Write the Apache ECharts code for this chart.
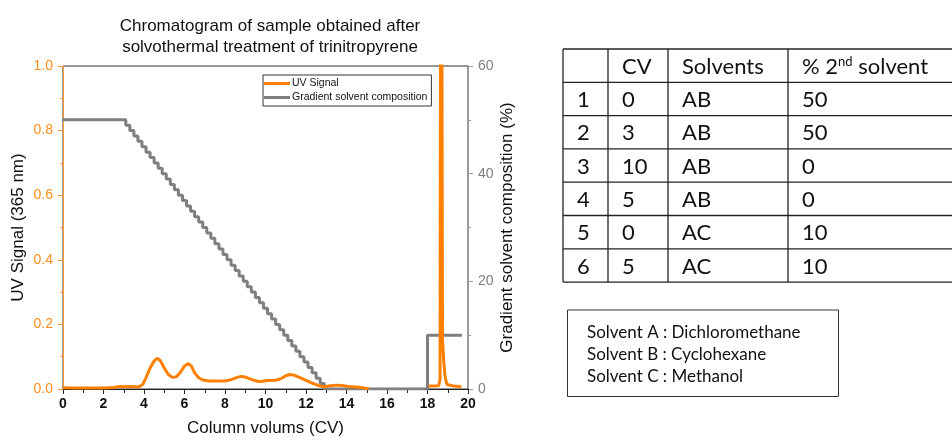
<!DOCTYPE html>
<html>
<head>
<meta charset="utf-8">
<script src="https://cdn.jsdelivr.net/npm/echarts@6/dist/echarts.min.js"></script>
<style>
  html, body { margin: 0; padding: 0; background: #fff; }
  #chart { width: 952px; height: 442px; }
</style>
</head>
<body>
<div id="chart"></div>
<script>
// UV absorbance trace (365 nm) against column volumes
const uvCV = [
  0.0, 0.5, 1.0, 1.5, 2.0, 2.5, 2.8, 3.0, 3.3, 3.6, 3.8, 3.95, 4.1, 4.3, 4.5, 4.65, 4.8,
  5.0, 5.2, 5.4, 5.6, 5.8, 6.0, 6.2, 6.35, 6.5, 6.7, 6.9, 7.2, 7.6, 8.0, 8.3, 8.6, 8.8,
  9.0, 9.3, 9.6, 9.8, 10.1, 10.5, 10.8, 11.0, 11.2, 11.4, 11.7, 12.0, 12.3, 12.6, 12.9,
  13.2, 13.5, 13.8, 14.1, 14.5, 14.8, 15.1, 16.0,
  18.05, 18.3, 18.55, 18.62, 18.67, 18.74, 18.77, 18.81, 18.86, 18.91, 18.97, 19.05,
  19.3, 19.68
];
const uvSignal = [
  0.004, 0.003, 0.003, 0.003, 0.003, 0.005, 0.008, 0.007, 0.008, 0.007, 0.008, 0.015, 0.035, 0.065, 0.087, 0.095, 0.088,
  0.065, 0.045, 0.036, 0.038, 0.052, 0.071, 0.079, 0.070, 0.050, 0.035, 0.028, 0.025, 0.025, 0.025, 0.029, 0.036, 0.039,
  0.037, 0.030, 0.024, 0.023, 0.026, 0.027, 0.033, 0.041, 0.045, 0.043, 0.035, 0.027, 0.018, 0.011, 0.007,
  0.010, 0.012, 0.011, 0.008, 0.006, 0.004, 0.001, null,
  0.009, 0.009, 0.010, 0.030, 2.500, 0.160, 0.120, 0.080, 0.045, 0.025, 0.014, 0.010,
  0.009, 0.007
];

// Gradient programme (% of second solvent), stepwise pump output
const gradCV = [
  0, 3.1, 3.3, 3.5, 3.7, 3.9, 4.1, 4.3, 4.5, 4.7, 4.9, 5.1, 5.3, 5.5, 5.7, 5.9, 6.1, 6.3, 6.5,
  6.7, 6.9, 7.1, 7.3, 7.5, 7.7, 7.9, 8.1, 8.3, 8.5, 8.7, 8.9, 9.1, 9.3, 9.5, 9.7, 9.9, 10.1,
  10.3, 10.5, 10.7, 10.9, 11.1, 11.3, 11.5, 11.7, 11.9, 12.1, 12.3, 12.5, 12.7, 12.9, 18, 19.7
];
const gradPct = [
  50, 49, 48, 47, 46, 45, 44, 43, 42, 41, 40, 39, 38, 37, 36, 35, 34, 33, 32,
  31, 30, 29, 28, 27, 26, 25, 24, 23, 22, 21, 20, 19, 18, 17, 16, 15, 14,
  13, 12, 11, 10, 9, 8, 7, 6, 5, 4, 3, 2, 1, 0, 10, 10
];

// Gradient table
const tableHeader = ['', 'CV', 'Solvents', '% 2{s|nd} solvent'];
const stepNo = ['1', '2', '3', '4', '5', '6'];
const stepCV = ['0', '3', '10', '5', '0', '5'];
const stepSolvents = ['AB', 'AB', 'AB', 'AB', 'AC', 'AC'];
const stepPct = ['50', '50', '0', '0', '10', '10'];

const solventNames = [
  'Solvent A : Dichloromethane',
  'Solvent B : Cyclohexane',
  'Solvent C : Methanol'
];

const ORANGE = '#ff7f00';
const ORANGE_AXIS = '#ff9a33';
const GREY = '#7f7f7f';
const AXIS_FONT = '"Liberation Sans", Arial, sans-serif';
const TABLE_FONT = 'Lato, "Open Sans", sans-serif';

// table layout
const colX = [563, 608, 668, 788, 960];
const tableTop = 49;
const rowH = 33.3;
const nRows = stepNo.length + 1;

const graphics = [];
for (let r = 0; r <= nRows; r++) {
  const y = tableTop + r * rowH;
  graphics.push({ type: 'line', shape: { x1: colX[0], y1: y, x2: colX[4], y2: y },
    style: { stroke: '#222', lineWidth: 1.3 } });
}
for (let c = 0; c < 4; c++) {
  graphics.push({ type: 'line', shape: { x1: colX[c], y1: tableTop, x2: colX[c], y2: tableTop + nRows * rowH },
    style: { stroke: '#222', lineWidth: 1.3 } });
}
function cellText(col, row, text) {
  graphics.push({
    type: 'text',
    style: {
      text: text,
      x: colX[col] + 14,
      y: tableTop + row * rowH + rowH / 2 + 1,
      font: '22px ' + TABLE_FONT,
      fill: '#111',
      align: 'left',
      verticalAlign: 'middle',
      rich: { s: { fontSize: 13, verticalAlign: 'top', padding: [0, 0, 6, 0], fontFamily: 'Lato' } }
    }
  });
}
tableHeader.forEach((h, c) => { if (h) cellText(c, 0, h); });
stepNo.forEach((v, i) => {
  cellText(0, i + 1, v);
  cellText(1, i + 1, stepCV[i]);
  cellText(2, i + 1, stepSolvents[i]);
  cellText(3, i + 1, stepPct[i]);
});

// solvent key box
graphics.push({ type: 'rect', shape: { x: 567.5, y: 310, width: 271, height: 86.5 },
  style: { fill: 'none', stroke: '#333', lineWidth: 1 } });
solventNames.forEach((s, i) => {
  graphics.push({
    type: 'text',
    style: { text: s, x: 587, y: 333 + i * 22, font: '17px ' + TABLE_FONT, fill: '#111',
      align: 'left', verticalAlign: 'middle' }
  });
});

const chart = echarts.init(document.getElementById('chart'), null, { renderer: 'canvas' });
chart.setOption({
  animation: false,
  backgroundColor: '#fff',
  title: {
    text: 'Chromatogram of sample obtained after\nsolvothermal treatment of trinitropyrene',
    left: 265,
    top: 11,
    textAlign: 'center',
    textStyle: { fontFamily: AXIS_FONT, fontSize: 17, fontWeight: 'normal', color: '#111', lineHeight: 21 }
  },
  legend: {
    data: ['UV Signal', 'Gradient solvent composition'],
    orient: 'vertical',
    left: 263,
    top: 75,
    icon: 'rect',
    itemWidth: 26,
    itemHeight: 3,
    itemGap: 3,
    padding: [3, 4, 3, 1],
    borderColor: '#333',
    borderWidth: 1,
    borderRadius: 0,
    textStyle: { fontFamily: AXIS_FONT, fontSize: 10.5, color: '#111', padding: [0, 0, 0, -3] }
  },
  grid: {
    left: 63, right: 484, top: 66, bottom: 50,
    show: true, borderColor: '#333', borderWidth: 1, backgroundColor: 'transparent'
  },
  xAxis: {
    type: 'value', min: 0, max: 20, interval: 2,
    name: 'Column volums (CV)', nameLocation: 'middle', nameGap: 31,
    nameTextStyle: { fontFamily: AXIS_FONT, fontSize: 17, color: '#111' },
    axisLine: { show: true, lineStyle: { color: '#222', width: 1 } },
    axisTick: { show: true, inside: false, length: 5, lineStyle: { color: '#222' } },
    minorTick: { show: true, splitNumber: 2, length: 4, lineStyle: { color: '#222' } },
    axisLabel: { margin: 8, fontFamily: AXIS_FONT, fontSize: 14, fontWeight: 'bold', color: '#111' },
    splitLine: { show: false }
  },
  yAxis: [
    {
      type: 'value', min: 0, max: 1, interval: 0.2, position: 'left',
      name: 'UV Signal (365 nm)', nameLocation: 'middle', nameGap: 36,
      nameTextStyle: { fontFamily: AXIS_FONT, fontSize: 17, color: '#111' },
      axisLine: { show: true, lineStyle: { color: ORANGE_AXIS, width: 1 } },
      axisTick: { show: true, inside: false, length: 5, lineStyle: { color: ORANGE_AXIS } },
      minorTick: { show: true, splitNumber: 2, length: 3, lineStyle: { color: ORANGE_AXIS } },
      axisLabel: { margin: 10, fontFamily: AXIS_FONT, fontSize: 14, color: '#ff8c1a',
        formatter: v => v.toFixed(1) },
      splitLine: { show: false }
    },
    {
      type: 'value', min: 0, max: 60, interval: 20, position: 'right',
      name: 'Gradient solvent composition (%)', nameLocation: 'middle', nameGap: 31,
      nameTextStyle: { fontFamily: AXIS_FONT, fontSize: 17, color: '#111' },
      axisLine: { show: true, lineStyle: { color: '#9a9a9a', width: 1 } },
      axisTick: { show: true, inside: false, length: 5, lineStyle: { color: '#9a9a9a' } },
      minorTick: { show: true, splitNumber: 2, length: 3, lineStyle: { color: '#9a9a9a' } },
      axisLabel: { margin: 10, fontFamily: AXIS_FONT, fontSize: 14, color: GREY },
      splitLine: { show: false }
    }
  ],
  series: [
    {
      name: 'Gradient solvent composition',
      type: 'line',
      yAxisIndex: 1,
      step: 'end',
      showSymbol: false,
      color: GREY,
      lineStyle: { color: GREY, width: 3 },
      data: gradCV.map((x, i) => [x, gradPct[i]]),
      z: 2
    },
    {
      name: 'UV Signal',
      type: 'line',
      yAxisIndex: 0,
      showSymbol: false,
      clip: true,
      connectNulls: false,
      color: ORANGE,
      lineStyle: { color: ORANGE, width: 3 },
      data: uvCV.map((x, i) => [x, uvSignal[i]]),
      z: 3
    }
  ],
  graphic: graphics
});
</script>
</body>
</html>
